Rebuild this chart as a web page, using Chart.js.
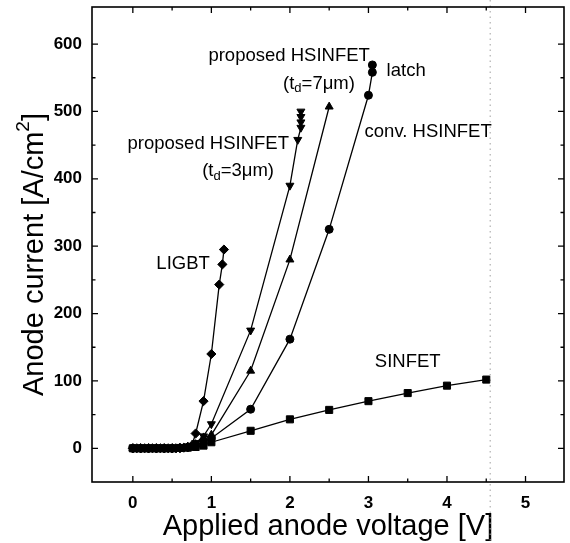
<!DOCTYPE html>
<html>
<head>
<meta charset="utf-8">
<script src="https://cdn.jsdelivr.net/npm/chart.js@4.4.1/dist/chart.umd.min.js"></script>
<style>
  html, body { margin: 0; padding: 0; background: #fff; }
  canvas { display: block; }
</style>
</head>
<body>
<canvas id="c" width="570" height="543"></canvas>
<script>
// ---- tick labels ----
const xTicks = [0, 1, 2, 3, 4, 5];
const xMinorTicks = [0.5, 1.5, 2.5, 3.5, 4.5];
const yTicks = [0, 100, 200, 300, 400, 500, 600];
const yMinorTicks = [50, 150, 250, 350, 450, 550];

// ---- series: SINFET (squares) ----
const sinfetV = [0, 0.1, 0.2, 0.3, 0.4, 0.5, 0.6, 0.7, 0.8, 0.9, 1.0, 1.5, 2.0, 2.5, 3.0, 3.5, 4.0, 4.5];
const sinfetI = [0, 0, 0, 0, 0, 0, 0.5, 1, 2, 4, 9, 26, 43, 57, 70, 82, 93, 102];

// ---- series: conv. HSINFET (circles) ----
const convV = [0, 0.1, 0.2, 0.3, 0.4, 0.5, 0.6, 0.7, 0.8, 0.9, 1.0, 1.5, 2.0, 2.5, 3.0, 3.05, 3.05];
const convI = [0, 0, 0, 0, 0, 0, 0.5, 1.5, 4, 10, 15, 58, 162, 325, 524, 558, 569];

// ---- series: proposed HSINFET td=7um (up triangles) ----
const hs7V = [0, 0.1, 0.2, 0.3, 0.4, 0.5, 0.6, 0.7, 0.8, 0.9, 1.0, 1.5, 2.0, 2.5];
const hs7I = [0, 0, 0, 0, 0, 0, 0.5, 2, 6, 16, 20, 115, 280, 507];

// ---- series: proposed HSINFET td=3um (down triangles) ----
const hs3V = [0, 0.1, 0.2, 0.3, 0.4, 0.5, 0.6, 0.7, 0.8, 0.9, 1.0, 1.5, 2.0, 2.1, 2.14, 2.14, 2.14, 2.14];
const hs3I = [0, 0, 0, 0, 0, 0, 0.5, 2, 8, 18, 36, 175, 390, 458, 476, 484, 492, 500];

// ---- series: LIGBT (diamonds) ----
const ligbtV = [0, 0.05, 0.1, 0.15, 0.2, 0.25, 0.3, 0.35, 0.4, 0.45, 0.5, 0.55, 0.6, 0.65, 0.7, 0.75, 0.8, 0.9, 1.0, 1.1, 1.14, 1.16];
const ligbtI = [0, 0, 0, 0, 0, 0, 0, 0, 0, 0, 0, 0, 0.5, 1, 2, 4, 22, 70, 140, 243, 273, 295];

// scan artefact: faint dotted vertical line position (V)
const scanLineV = 4.55;

const FONT = '"Liberation Sans", Arial, Helvetica, sans-serif';

function pts(xs, ys) { return xs.map((x, i) => ({ x: x, y: ys[i] })); }

function ds(label, xs, ys, style, radius, rot) {
  return {
    label: label,
    data: pts(xs, ys),
    borderColor: '#000',
    backgroundColor: '#000',
    borderWidth: 1.3,
    pointStyle: style,
    pointRadius: radius,
    pointHoverRadius: radius,
    pointRotation: rot || 0,
    pointBorderWidth: 1,
    tension: 0,
    showLine: true,
    fill: false
  };
}

const annotations = [
  { parts: [['proposed HSINFET', 0]], x: 1.99, y: 582 },
  { parts: [['(t', 0], ['d', 1], ['=7\u03bcm)', 0]], x: 2.37, y: 541 },
  { parts: [['latch', 0]], x: 3.48, y: 560 },
  { parts: [['conv. HSINFET', 0]], x: 3.76, y: 470 },
  { parts: [['proposed HSINFET', 0]], x: 0.96, y: 452 },
  { parts: [['(t', 0], ['d', 1], ['=3\u03bcm)', 0]], x: 1.34, y: 411 },
  { parts: [['LIGBT', 0]], x: 0.64, y: 273 },
  { parts: [['SINFET', 0]], x: 3.5, y: 128 }
];

const yTitleParts = [['Anode current [A/cm', 0], ['2', 1], [']', 0]];

function drawParts(ctx, parts, cx, cy, size, subSize, dy) {
  let w = 0;
  parts.forEach(([t, s]) => {
    ctx.font = (s ? subSize : size) + 'px ' + FONT;
    w += ctx.measureText(t).width;
  });
  let px = cx - w / 2;
  parts.forEach(([t, s]) => {
    ctx.font = (s ? subSize : size) + 'px ' + FONT;
    ctx.fillText(t, px, cy + (s ? dy : 0));
    px += ctx.measureText(t).width;
  });
}

const framePlugin = {
  id: 'frame',
  beforeDatasetsDraw(chart) {
    const { ctx, scales } = chart;
    ctx.save();
    const sx = scales.x.getPixelForValue(scanLineV);
    ctx.strokeStyle = '#a0a0a0';
    ctx.lineWidth = 1;
    ctx.setLineDash([1.5, 4]);
    ctx.beginPath();
    ctx.moveTo(sx, 0);
    ctx.lineTo(sx, chart.height);
    ctx.stroke();
    ctx.setLineDash([]);
    ctx.restore();
  },
  afterDraw(chart) {
    const { ctx, chartArea: a, scales } = chart;
    ctx.save();
    ctx.strokeStyle = '#000';
    ctx.lineWidth = 1.6;
    ctx.strokeRect(a.left, a.top, a.right - a.left, a.bottom - a.top);
    ctx.lineWidth = 1.3;
    const maj = 6, min = 3.5;
    ctx.beginPath();
    const xt = (v, len) => {
      const p = scales.x.getPixelForValue(v);
      ctx.moveTo(p, a.bottom); ctx.lineTo(p, a.bottom - len);
      ctx.moveTo(p, a.top); ctx.lineTo(p, a.top + len);
    };
    const yt = (v, len) => {
      const p = scales.y.getPixelForValue(v);
      ctx.moveTo(a.left, p); ctx.lineTo(a.left + len, p);
      ctx.moveTo(a.right, p); ctx.lineTo(a.right - len, p);
    };
    xTicks.forEach(v => xt(v, maj));
    xMinorTicks.forEach(v => xt(v, min));
    yTicks.forEach(v => yt(v, maj));
    yMinorTicks.forEach(v => yt(v, min));
    ctx.stroke();

    ctx.fillStyle = '#000';
    ctx.textBaseline = 'middle';
    ctx.textAlign = 'left';
    annotations.forEach(an => {
      drawParts(ctx, an.parts, scales.x.getPixelForValue(an.x), scales.y.getPixelForValue(an.y), 18.5, 13, 5);
    });

    // y-axis title with real superscript
    ctx.save();
    ctx.translate(35, (a.top + a.bottom) / 2 + 10);
    ctx.rotate(-Math.PI / 2);
    ctx.textBaseline = 'middle';
    drawParts(ctx, yTitleParts, 0, 0, 29, 19, -11);
    ctx.restore();
    ctx.restore();
  }
};

new Chart(document.getElementById('c'), {
  type: 'scatter',
  data: {
    datasets: [
      ds('SINFET', sinfetV, sinfetI, 'rect', 5),
      ds('conv. HSINFET', convV, convI, 'circle', 4),
      ds('proposed HSINFET (td=7um)', hs7V, hs7I, 'triangle', 4.6),
      ds('proposed HSINFET (td=3um)', hs3V, hs3I, 'triangle', 4.6, 180),
      ds('LIGBT', ligbtV, ligbtI, 'rectRot', 4.6)
    ]
  },
  options: {
    responsive: false,
    animation: false,
    devicePixelRatio: 1,
    layout: { padding: { left: 0, right: 3, top: 7, bottom: 2 } },
    plugins: { legend: { display: false }, tooltip: { enabled: false } },
    scales: {
      x: {
        type: 'linear',
        min: -0.52,
        max: 5.49,
        afterBuildTicks: s => { s.ticks = xTicks.map(v => ({ value: v })); },
        afterFit: s => { s.height = 59; s.paddingLeft = 0; s.paddingRight = 0; },
        grid: { display: false, drawTicks: false },
        border: { display: false },
        ticks: { color: '#000', padding: 11, maxRotation: 0, autoSkip: false,
                 font: { family: FONT, size: 17, weight: 'bold' } },
        title: { display: true, text: 'Applied anode voltage [V]', color: '#000',
                 font: { family: FONT, size: 29, lineHeight: 1 }, padding: { top: 1, bottom: 0 } }
      },
      y: {
        type: 'linear',
        min: -50,
        max: 655,
        afterBuildTicks: s => { s.ticks = yTicks.map(v => ({ value: v })); },
        afterFit: s => { s.width = 92; s.paddingTop = 0; s.paddingBottom = 0; },
        grid: { display: false, drawTicks: false },
        border: { display: false },
        ticks: { color: '#000', padding: 10, autoSkip: false,
                 font: { family: FONT, size: 17, weight: 'bold' } }
      }
    }
  },
  plugins: [framePlugin]
});
</script>
</body>
</html>
